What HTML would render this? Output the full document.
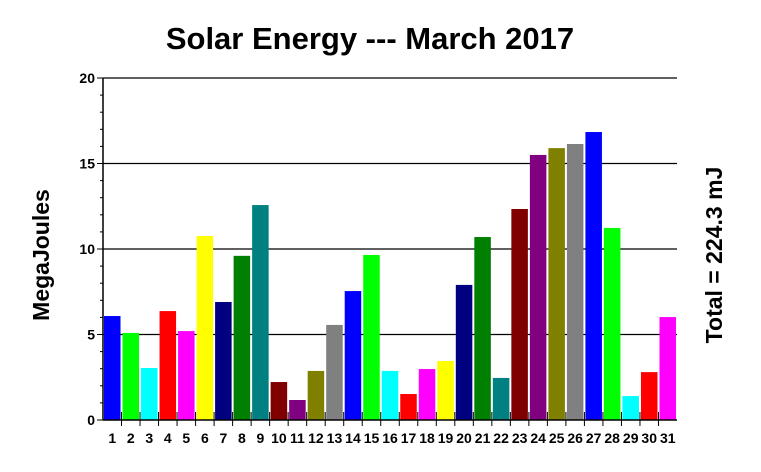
<!DOCTYPE html>
<html><head><meta charset="utf-8"><style>
body{margin:0;background:#fff;}
svg{display:block;font-family:"Liberation Sans",Arial,sans-serif;font-weight:bold;}
</style></head><body>
<svg id="chart" width="761" height="472" viewBox="0 0 761 472">
<text x="370" y="49" font-size="31" text-anchor="middle">Solar Energy --- March 2017</text>
<text transform="translate(49,255) rotate(-90)" font-size="23" text-anchor="middle">MegaJoules</text>
<text transform="translate(722,255) rotate(-90)" font-size="23" text-anchor="middle">Total = 224.3 mJ</text>
<g id="grid"></g><g id="bars"></g><g id="axes"></g>
</svg>
<script>
const days=[1,2,3,4,5,6,7,8,9,10,11,12,13,14,15,16,17,18,19,20,21,22,23,24,25,26,27,28,29,30,31];
const energy=[6.08,5.09,3.04,6.37,5.2,10.76,6.9,9.6,12.57,2.22,1.17,2.87,5.56,7.54,9.65,2.87,1.52,2.98,3.45,7.9,10.7,2.46,12.34,15.5,15.9,16.14,16.84,11.23,1.4,2.8,6.02];
const yTicks=[0,5,10,15,20];
const palette=["#0000ff","#00ff00","#00ffff","#ff0000","#ff00ff","#ffff00","#000080","#008000","#008080","#800000","#800080","#808000","#808080"];
const X0=103,X1=677,Y0=420,Y1=78,YMAX=20;
const slot=(X1-X0)/days.length;
const y=v=>Y0-(v/YMAX)*(Y0-Y1);
const x=i=>X0+i*slot;
const NS="http://www.w3.org/2000/svg";
function mk(t,a,p){const e=document.createElementNS(NS,t);for(const k in a)e.setAttribute(k,a[k]);p.appendChild(e);return e;}
const grid=document.getElementById('grid'),bars=document.getElementById('bars'),axes=document.getElementById('axes');
yTicks.forEach(t=>{
 if(t>0){const g=mk('line',{x1:X0,x2:X1,y1:y(t),y2:y(t),stroke:'#000','stroke-width':1.3},grid);
 
 }
 const l=mk('text',{x:X0-8,y:y(t)+5,'font-size':14,'text-anchor':'end'},axes);l.textContent=t;
 
 
});
for(let v=0;v<=YMAX;v++){mk('line',{x1:X0-(v%5?3:6),x2:X0,y1:y(v),y2:y(v),stroke:'#000'},axes);}
energy.forEach((v,i)=>{
 const r=mk('rect',{x:x(i)+1,y:y(v),width:slot-2,height:Y0-y(v),fill:palette[i%palette.length]},bars);
 
 
 const l=mk('text',{x:x(i)+slot/2,y:443,'font-size':14,'text-anchor':'middle'},axes);l.textContent=days[i];
 
 
 if(i>0)mk('line',{x1:x(i),x2:x(i),y1:Y0-8,y2:Y0+6,stroke:'#000'},axes);
});
const xa=mk('line',{x1:X0,x2:X1,y1:Y0,y2:Y0,stroke:'#000','stroke-width':1.5},axes);


const ya=mk('line',{x1:X0,x2:X0,y1:Y1,y2:Y0,stroke:'#000','stroke-width':1.5},axes);


</script>
</body></html>
